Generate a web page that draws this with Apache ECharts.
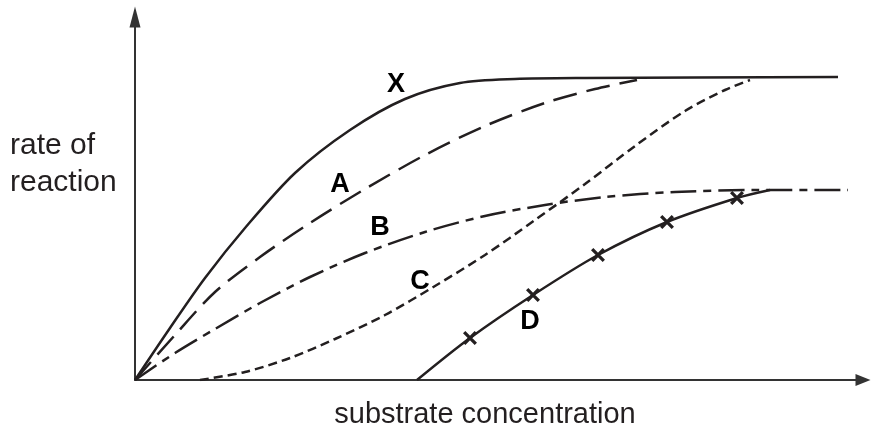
<!DOCTYPE html>
<html>
<head>
<meta charset="utf-8">
<script src="https://cdn.jsdelivr.net/npm/echarts@6/dist/echarts.min.js"></script>
<style>
  html, body { margin: 0; padding: 0; background: #fff; }
  #main { width: 871px; height: 429px; }
</style>
</head>
<body>
<div id="main"></div>
<script>
const curveX = [[0, 0], [35, 52], [70, 102], [110, 152], [160, 207], [215, 250], [270, 281],
  [325, 297], [380, 301], [450, 302], [703, 303]]
const curveA = [[0, 0], [40, 45], [80, 88], [125, 123], [175, 157], [230, 191], [290, 225],
  [350, 254], [410, 277], [460, 291], [502, 300]]
const curveB = [[0, 0], [40, 27], [80, 51], [125, 77], [175, 103], [230, 127], [290, 148],
  [350, 164], [410, 175], [470, 183], [540, 188], [620, 190], [713, 190]]
const curveC = [[65, 0], [110, 8], [155, 22], [200, 41], [250, 65], [300, 94], [350, 125],
  [400, 160], [450, 196], [500, 234], [550, 269], [590, 290], [615, 300]]
const curveD = [[282, 0], [335, 42], [398, 85], [463, 125], [532, 158], [602, 182], [635, 190]]
// points on D that carry a cross
const markedD = [false, true, true, true, true, true, false]

const labelNames = ['X', 'A', 'B', 'C', 'D']
const labelX = [261, 205, 245, 285, 395]
const labelY = [295, 195, 152, 98, 58]

const xMax = 728
const yMax = 363

const ink = '#231f20'
const crossPath = 'path://M0,2L2,0L12,10L10,12Z M10,0L12,2L2,12L0,10Z'

const chart = echarts.init(document.getElementById('main'))

function curve(data, dash) {
    return {
        type: 'line',
        data: data,
        smooth: 0.3,
        symbol: 'none',
        silent: true,
        lineStyle: { color: ink, width: 2.5, type: dash, cap: 'butt' }
    }
}

const seriesD = {
    type: 'line',
    data: curveD.map((p, i) => ({ value: p, symbol: markedD[i] ? crossPath : 'none' })),
    smooth: 0.3,
    showSymbol: true,
    symbolSize: 14,
    silent: true,
    itemStyle: { color: ink },
    lineStyle: { color: ink, width: 2.5 }
}

const option = {
    animation: false,
    grid: { left: 135, right: 8, top: 17, bottom: 49 },
    xAxis: {
        type: 'value',
        min: 0,
        max: xMax,
        axisLine: {
            symbol: ['none', 'triangle'],
            symbolSize: [12, 15],
            lineStyle: { color: '#333', width: 2 }
        },
        axisTick: { show: false },
        axisLabel: { show: false },
        splitLine: { show: false }
    },
    yAxis: {
        type: 'value',
        min: 0,
        max: yMax,
        axisLine: {
            show: true,
            symbol: ['none', 'triangle'],
            symbolSize: [11, 21],
            lineStyle: { color: '#333', width: 2 }
        },
        axisTick: { show: false },
        axisLabel: { show: false },
        splitLine: { show: false }
    },
    series: [
        curve(curveX, 'solid'),
        curve(curveA, [24, 10]),
        curve(curveB, [26, 7, 8, 7]),
        curve(curveC, [9, 5]),
        seriesD,
        {
            type: 'scatter',
            silent: true,
            symbolSize: 1,
            itemStyle: { color: 'rgba(0,0,0,0)' },
            data: labelNames.map((n, i) => [labelX[i], labelY[i], n]),
            label: {
                show: true,
                position: 'inside',
                formatter: p => p.data[2],
                color: '#000',
                opacity: 1,
                textBorderWidth: 0,
                fontFamily: 'Liberation Sans',
                fontWeight: 'bold',
                fontSize: 27
            }
        }
    ],
    graphic: [
        {
            type: 'text',
            left: 10,
            top: 127,
            style: {
                text: 'rate of\nreaction',
                fill: ink,
                font: '30px "Liberation Sans"',
                lineHeight: 37
            }
        },
        {
            type: 'text',
            style: {
                x: 485,
                y: 415,
                text: 'substrate concentration',
                fill: ink,
                font: '29px "Liberation Sans"',
                align: 'center',
                verticalAlign: 'middle'
            }
        }
    ]
}

chart.setOption(option)
</script>
</body>
</html>
